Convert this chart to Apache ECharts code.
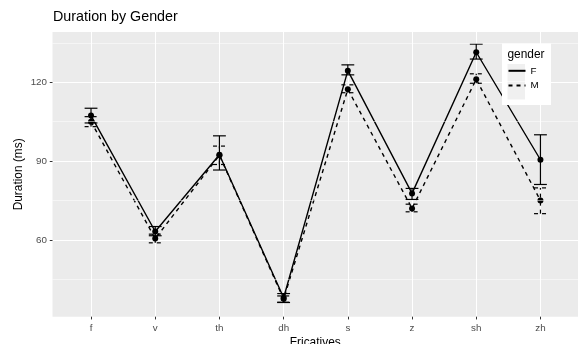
<!DOCTYPE html>
<html>
<head>
<meta charset="utf-8">
<script src="https://cdn.jsdelivr.net/npm/echarts@6/dist/echarts.min.js"></script>
<style>
html,body{margin:0;padding:0;background:#fff;}
#chart{width:578px;height:344px;}
</style>
</head>
<body>
<div id="chart"></div>
<script>
const categories = ['f', 'v', 'th', 'dh', 's', 'z', 'sh', 'zh'];
const fMean  = [107.3, 63.2, 92.4, 38.0, 124.4, 77.7, 131.4, 90.5];
const fLower = [104.5, 61.6, 86.6, 36.2, 122.8, 75.4, 128.8, 81.1];
const fUpper = [110.1, 65.1, 99.6, 39.6, 126.6, 79.6, 134.5, 100.0];
const mMean  = [105.0, 60.5, 92.2, 37.5, 117.3, 72.0, 121.1, 75.0];
const mLower = [103.1, 58.9, 88.7, 36.3, 116.0, 70.7, 119.6, 70.0];
const mUpper = [106.9, 62.2, 95.7, 38.7, 119.0, 73.6, 123.2, 79.8];
const yMajorTicks = [60, 90, 120];
const yMinorTicks = [45, 75, 105, 135];
const xTicks = [0, 1, 2, 3, 4, 5, 6, 7];

const FONT = '"Liberation Sans", Arial, Helvetica, sans-serif';
const chart = echarts.init(document.getElementById('chart'), null, {renderer: 'canvas'});

function pts(arr) { return arr.map((v, i) => [i, v]); }
function bars(lo, hi) { return lo.map((v, i) => [i, v, hi[i]]); }

function errRender(dash) {
  return function (params, api) {
    const x = api.value(0);
    const lo = api.value(1);
    const hi = api.value(2);
    const pLo = api.coord([x, lo]);
    const pHi = api.coord([x, hi]);
    const cl = api.coord([x - 0.1, lo]);
    const cr = api.coord([x + 0.1, lo]);
    const tl = api.coord([x - 0.1, hi]);
    const tr = api.coord([x + 0.1, hi]);
    const style = {stroke: '#000', lineWidth: 1.2, lineDash: dash};
    return {
      type: 'group',
      children: [
        {type: 'line', shape: {x1: pLo[0], y1: pLo[1], x2: pHi[0], y2: pHi[1]}, style: style},
        {type: 'line', shape: {x1: cl[0], y1: cl[1], x2: cr[0], y2: cr[1]}, style: style},
        {type: 'line', shape: {x1: tl[0], y1: tl[1], x2: tr[0], y2: tr[1]}, style: style}
      ]
    };
  };
}

const option = {
  animation: false,
  title: {
    text: 'Duration by Gender',
    left: 53, top: 10, padding: 0,
    textStyle: {fontFamily: FONT, fontSize: 14.3, fontWeight: 'normal', color: '#000'}
  },
  grid: {
    left: 52.5, right: 0, top: 32, bottom: 27.3,
    containLabel: false, outerBoundsMode: 'none',
    show: true, backgroundColor: '#EBEBEB', borderWidth: 0
  },
  xAxis: {
    type: 'value', min: -0.6, max: 7.585,
    name: 'Fricatives', nameLocation: 'middle', nameGap: 20.5, nameMoveOverlap: false,
    nameTextStyle: {fontFamily: FONT, fontSize: 11.9, color: '#000'},
    axisLine: {show: false, onZero: false},
    axisTick: {show: true, length: 2.75, customValues: xTicks, lineStyle: {color: '#333333', width: 1}},
    axisLabel: {customValues: xTicks, margin: 6.5, fontFamily: FONT, fontSize: 9.8, color: '#4D4D4D',
      formatter: v => categories[Math.round(v)]},
    splitLine: {show: true, lineStyle: {color: '#FFFFFF', width: 1.07}}
  },
  yAxis: {
    type: 'value', min: 30.8, max: 139.1,
    name: 'Duration (ms)', nameLocation: 'middle', nameGap: 27.5, nameMoveOverlap: false,
    nameTextStyle: {fontFamily: FONT, fontSize: 11.9, color: '#000'},
    axisLine: {show: false, onZero: false},
    axisTick: {show: true, length: 2.75, customValues: yMajorTicks, lineStyle: {color: '#333333', width: 1}},
    axisLabel: {customValues: yMajorTicks, margin: 5.5, fontFamily: FONT, fontSize: 9.8, color: '#4D4D4D'},
    splitLine: {show: true, lineStyle: {color: '#FFFFFF', width: 1.07}}
  },
  legend: {
    orient: 'vertical', left: 507.5, top: 64, padding: 0,
    itemWidth: 17, itemHeight: 17, itemGap: 1.2,
    textStyle: {fontFamily: FONT, fontSize: 9.8, color: '#000'},
    itemStyle: {opacity: 0},
    data: ['F', 'M'],
    z: 10
  },
  graphic: [
    {type: 'rect', left: 502, top: 43.5, shape: {width: 49, height: 61.5}, style: {fill: '#FFFFFF'}, z: 8},
    {type: 'rect', left: 507.5, top: 64, shape: {width: 17.5, height: 17.5}, style: {fill: '#F0F0F0'}, z: 9},
    {type: 'rect', left: 507.5, top: 82, shape: {width: 17.5, height: 17.5}, style: {fill: '#F0F0F0'}, z: 9},
    {type: 'text', left: 507.5, top: 48.5, style: {text: 'gender', fontFamily: FONT, fontSize: 11.9, fill: '#000'}, z: 9}
  ],
  series: [
    {
      name: 'minor grid', type: 'line', data: [], z: 1, silent: true,
      markLine: {
        silent: true, symbol: ['none', 'none'], label: {show: false},
        lineStyle: {color: '#FFFFFF', width: 0.53, type: 'solid'},
        emphasis: {disabled: true},
        data: yMinorTicks.map(v => ({yAxis: v}))
      }
    },
    {
      name: 'M', type: 'line', data: pts(mMean),
      symbol: 'circle', symbolSize: 6,
      itemStyle: {color: '#000'},
      lineStyle: {color: '#000', width: 1.4, type: [4, 4]},
      z: 3
    },
    {
      name: 'F', type: 'line', data: pts(fMean),
      symbol: 'circle', symbolSize: 6,
      itemStyle: {color: '#000'},
      lineStyle: {color: '#000', width: 1.4, type: 'solid'},
      z: 4
    },
    {
      name: 'M err', type: 'custom', data: bars(mLower, mUpper),
      renderItem: errRender([4, 4]), encode: {x: 0, y: [1, 2]}, z: 3
    },
    {
      name: 'F err', type: 'custom', data: bars(fLower, fUpper),
      renderItem: errRender(null), encode: {x: 0, y: [1, 2]}, z: 4
    }
  ]
};
chart.setOption(option);
</script>
</body>
</html>
